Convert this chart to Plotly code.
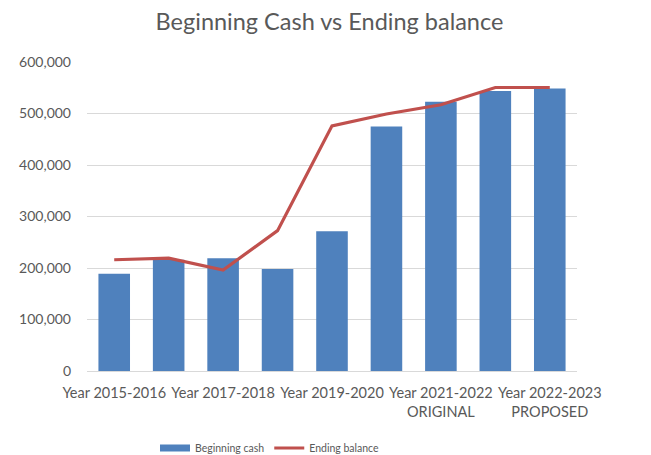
import plotly.graph_objects as go

categories = [
    "Year 2015-2016", "Year 2016-2017", "Year 2017-2018", "Year 2018-2019",
    "Year 2019-2020", "Year 2020-2021", "Year 2021-2022 ORIGINAL",
    "Year 2021-2022 REVISED", "Year 2022-2023 PROPOSED",
]
beginning_cash = [189000, 216000, 219000, 198000, 271500, 475000, 523000, 543500, 548500]
ending_balance = [216000, 219000, 196000, 272500, 476000, 499000, 517000, 550500, 550500]

shown_ticks = [0, 2, 4, 6, 8]
tick_text = ["Year 2015-2016", "Year 2017-2018", "Year 2019-2020",
             "Year 2021-2022<br>ORIGINAL", "Year 2022-2023<br>PROPOSED"]
y_ticks = [0, 100000, 200000, 300000, 400000, 500000, 600000]

FONT = "Lato"
GREY = "#595959"
BLUE = "#4F81BD"
RED = "#C0504D"
W, H = 643, 447  # page body has an 8px margin

fig = go.Figure()
fig.add_trace(go.Bar(
    x=categories, y=beginning_cash, name="Beginning cash",
    marker=dict(color=BLUE, line=dict(width=0)), showlegend=False,
))
# legend-only entry drawn as a wide bar-like swatch
fig.add_trace(go.Scatter(
    x=[categories[0]], y=[None], name="Beginning cash", mode="lines",
    line=dict(color=BLUE, width=7), hoverinfo="skip",
))
fig.add_trace(go.Scatter(
    x=categories, y=ending_balance, name="Ending balance", mode="lines",
    line=dict(color=RED, width=3.2),
))

fig.update_layout(
    width=W, height=H,
    margin=dict(l=79, r=74, t=54, b=84, autoexpand=False),
    paper_bgcolor="white", plot_bgcolor="white",
    bargap=0.42,
    title=dict(text="Beginning Cash vs Ending balance", x=0.5, xanchor="center",
               yref="container", y=1 - 14 / H, yanchor="middle",
               font=dict(family=FONT, size=23.5, color=GREY)),
    font=dict(family=FONT, color=GREY),
    showlegend=True,
    legend=dict(orientation="h", xref="container", x=262 / W, xanchor="center",
                yref="container", y=1 - 440 / H, yanchor="middle",
                font=dict(size=10.5, color=GREY), traceorder="normal"),
    xaxis=dict(
        tickmode="array",
        tickvals=[categories[i] for i in shown_ticks],
        ticktext=tick_text,
        tickangle=0,
        tickfont=dict(size=14.5, color=GREY),
        showgrid=False, showline=True, linecolor="#D9D9D9", linewidth=1,
        ticks="", automargin=False, ticklabelstandoff=9,
    ),
    yaxis=dict(
        range=[0, 600000],
        tickvals=y_ticks,
        tickformat=",",
        tickfont=dict(size=14, color=GREY),
        showgrid=True, gridcolor="#D9D9D9", gridwidth=1,
        zeroline=False, showline=False, ticks="",
        automargin=False, ticklabelstandoff=15,
    ),
)

fig.write_html("out.html")
